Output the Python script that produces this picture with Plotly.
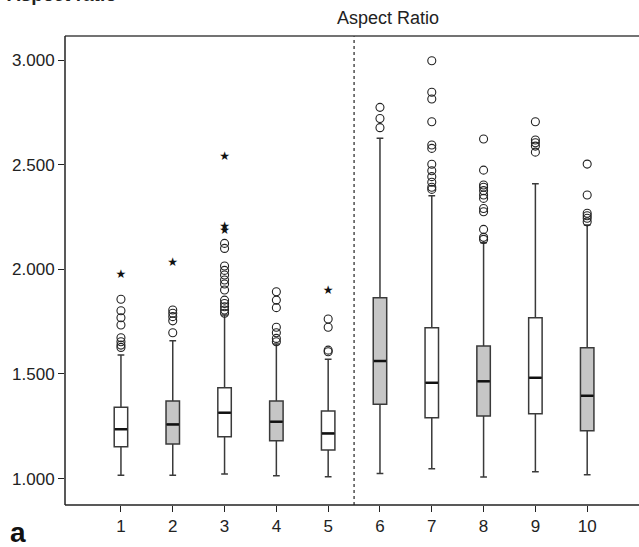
import plotly.graph_objects as go

categories = [1, 2, 3, 4, 5, 6, 7, 8, 9, 10]
q1 = [1.152, 1.165, 1.200, 1.181, 1.137, 1.355, 1.291, 1.299, 1.310, 1.229]
median = [1.236, 1.259, 1.315, 1.272, 1.216, 1.562, 1.458, 1.465, 1.482, 1.396]
q3 = [1.341, 1.371, 1.434, 1.371, 1.323, 1.864, 1.721, 1.634, 1.769, 1.625]
lower_whisker = [1.016, 1.016, 1.022, 1.014, 1.009, 1.025, 1.047, 1.008, 1.033, 1.019]
upper_whisker = [1.591, 1.659, 1.782, 1.643, 1.570, 2.626, 2.352, 2.127, 2.409, 2.212]
fills = ["white", "#c6c6c6", "white", "#c6c6c6", "white",
         "#c6c6c6", "white", "#c6c6c6", "white", "#c6c6c6"]

outliers = {
    1: [1.857, 1.802, 1.769, 1.734, 1.673, 1.654, 1.638, 1.627],
    2: [1.697, 1.754, 1.774, 1.790, 1.806],
    3: [2.124, 2.100, 2.016, 1.995, 1.973, 1.949, 1.930, 1.901,
        1.853, 1.837, 1.821, 1.806, 1.790],
    4: [1.893, 1.853, 1.817, 1.723, 1.697, 1.670, 1.654],
    5: [1.763, 1.723, 1.614, 1.606],
    6: [2.774, 2.721, 2.677],
    7: [2.997, 2.846, 2.814, 2.705, 2.594, 2.578, 2.502, 2.471, 2.443,
        2.416, 2.392, 2.382],
    8: [2.623, 2.474, 2.403, 2.392, 2.376, 2.355, 2.339, 2.291, 2.275,
        2.191, 2.153, 2.143],
    9: [2.705, 2.618, 2.605, 2.589, 2.560],
    10: [2.503, 2.355, 2.268, 2.256, 2.244, 2.227],
}
extremes = {
    1: [1.973],
    2: [2.031],
    3: [2.535, 2.200, 2.184],
    5: [1.898],
}

y_ticks = [1.0, 1.5, 2.0, 2.5, 3.0]
title_text = "Aspect Ratio"
panel_label = "a"
cut_title = "Aspect ratio"

BOX_W = 0.26
FONT = "Liberation Sans, Arial, sans-serif"

fig = go.Figure()
for i, c in enumerate(categories):
    fig.add_trace(go.Box(
        x=[c], q1=[q1[i]], median=[median[i]], q3=[q3[i]],
        lowerfence=[lower_whisker[i]], upperfence=[upper_whisker[i]],
        width=BOX_W, whiskerwidth=0.5, boxpoints=False,
        fillcolor=fills[i], line=dict(color="#3a3a3a", width=1.5),
        showlegend=False, hoverinfo="skip",
    ))
    # thicker black median line
    fig.add_trace(go.Scatter(
        x=[c - BOX_W / 2 + 0.01, c + BOX_W / 2 - 0.01], y=[median[i], median[i]],
        mode="lines", line=dict(color="#111111", width=2.5),
        showlegend=False, hoverinfo="skip",
    ))

ox, oy = [], []
for c, vals in outliers.items():
    ox += [c] * len(vals)
    oy += vals
fig.add_trace(go.Scatter(
    x=ox, y=oy, mode="markers",
    marker=dict(symbol="circle-open", size=8, color="#222222", line=dict(width=1.1)),
    showlegend=False, hoverinfo="skip",
))
ex, ey = [], []
for c, vals in extremes.items():
    ex += [c] * len(vals)
    ey += vals
fig.add_trace(go.Scatter(
    x=ex, y=ey, mode="text", text=["\u2605"] * len(ex),
    textfont=dict(size=12, color="#111111", family="DejaVu Sans"),
    showlegend=False, hoverinfo="skip",
))

# mask any line at the right edge of the plot area
fig.add_shape(type="line", xref="paper", yref="paper", x0=0.998, x1=0.998, y0=-0.01, y1=0.995,
              line=dict(color="white", width=6), layer="above")
# dotted separator and frame lines (left, top)
fig.add_shape(type="line", xref="x", yref="paper", x0=5.5, x1=5.5, y0=0, y1=1,
              line=dict(color="#222222", width=1.2, dash="dot"))
fig.add_shape(type="line", xref="paper", yref="paper", x0=0, x1=1, y0=1, y1=1,
              line=dict(color="#444444", width=1.5), layer="above")
fig.add_shape(type="line", xref="paper", yref="paper", x0=0, x1=1, y0=0, y1=0,
              line=dict(color="#222222", width=1.5), layer="above")
fig.add_shape(type="line", xref="paper", yref="paper", x0=0, x1=0, y0=0, y1=1,
              line=dict(color="#222222", width=1.5))

fig.add_annotation(text=title_text, xref="paper", yref="paper", x=0.563, y=1.038,
                   xanchor="center", yanchor="middle", showarrow=False,
                   font=dict(size=18, color="#222222", family=FONT))
fig.add_annotation(text="<b>" + panel_label + "</b>", xref="paper", yref="paper",
                   x=-0.1, y=-0.095, xanchor="left", yanchor="bottom", showarrow=False,
                   font=dict(size=28, color="#111111", family=FONT))
fig.add_annotation(text="<b>" + cut_title + "</b>", xref="paper", yref="paper",
                   x=-0.105, y=1.062, xanchor="left", yanchor="bottom", showarrow=False,
                   font=dict(size=19, color="#222222", family=FONT))

fig.update_xaxes(range=[-0.08, 11.0], tickvals=categories,
                 ticktext=[str(c) for c in categories],
                 showline=False, mirror=False,
                 ticks="outside", ticklen=6, tickcolor="#222222",
                 showgrid=False, zeroline=False,
                 tickfont=dict(size=17, color="#222222", family=FONT))
fig.update_yaxes(range=[0.874, 3.115], tickvals=y_ticks,
                 ticktext=[f"{v:.3f}" for v in y_ticks],
                 showline=False, mirror=False,
                 ticks="outside", ticklen=6, tickcolor="#222222",
                 showgrid=False, zeroline=False,
                 tickfont=dict(size=17, color="#222222", family=FONT))

fig.update_layout(
    width=639, height=547,
    margin=dict(l=65, r=0, t=36, b=42),
    plot_bgcolor="white", paper_bgcolor="white",
    showlegend=False,
)
fig.write_html("out.html", config={"displayModeBar": False, "staticPlot": True})
